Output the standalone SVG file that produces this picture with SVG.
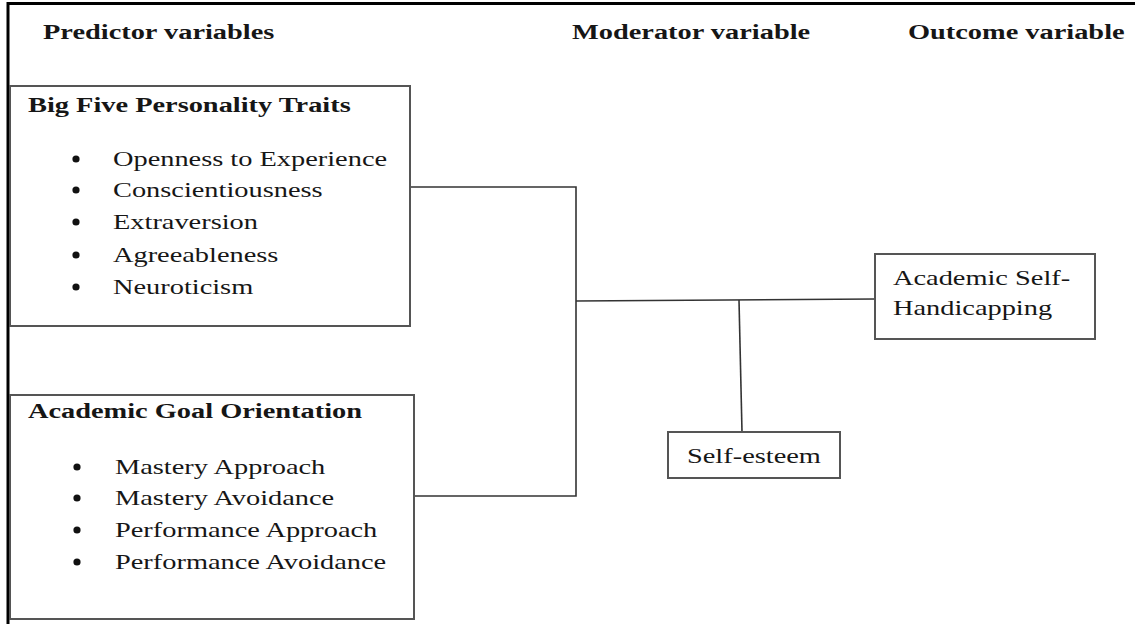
<svg xmlns="http://www.w3.org/2000/svg" width="1135" height="624" viewBox="0 0 1135 624">
<style>
  text { font-family: "Liberation Serif", "Times New Roman", serif; font-size: 22px; fill: #161616; }
  .b { font-weight: bold; }
  .box { fill: #fff; stroke: #555; stroke-width: 2; }
  .conn { fill: none; stroke: #333; stroke-width: 1.6; }
  .frame { fill: none; stroke: #000; stroke-width: 3; }
</style>
<defs>
  <circle id="dot" r="3.6" fill="#111"/>
</defs>
<rect width="1135" height="624" fill="#fff"/>
<path class="frame" d="M8 624 V3.5 H1135"/>

<g id="headers">
  <text class="b" transform="translate(43 39) scale(1.29 1)">Predictor variables</text>
  <text class="b" transform="translate(572 39) scale(1.29 1)">Moderator variable</text>
  <text class="b" transform="translate(908 39) scale(1.29 1)">Outcome variable</text>
</g>

<g id="connectors">
  <path class="conn" d="M411 187 H576 V496 H414"/>
  <path class="conn" d="M576 301 L875 299"/>
  <path class="conn" d="M739 300 L742 432"/>
</g>

<g id="big-five">
  <rect class="box" x="10" y="86" width="400" height="240"/>
  <text class="b" transform="translate(28 112) scale(1.29 1)">Big Five Personality Traits</text>
  <use href="#dot" x="76" y="159"/>
  <text transform="translate(113 166) scale(1.29 1)">Openness to Experience</text>
  <use href="#dot" x="76" y="190"/>
  <text transform="translate(113 197) scale(1.29 1)">Conscientiousness</text>
  <use href="#dot" x="76" y="222"/>
  <text transform="translate(113 229) scale(1.29 1)">Extraversion</text>
  <use href="#dot" x="76" y="255"/>
  <text transform="translate(113 262) scale(1.29 1)">Agreeableness</text>
  <use href="#dot" x="76" y="287"/>
  <text transform="translate(113 294) scale(1.29 1)">Neuroticism</text>
</g>

<g id="goal-orientation">
  <rect class="box" x="10" y="395" width="404" height="224"/>
  <text class="b" transform="translate(28 418) scale(1.29 1)">Academic Goal Orientation</text>
  <use href="#dot" x="77" y="467"/>
  <text transform="translate(115 474) scale(1.29 1)">Mastery Approach</text>
  <use href="#dot" x="77" y="498"/>
  <text transform="translate(115 505) scale(1.29 1)">Mastery Avoidance</text>
  <use href="#dot" x="77" y="530"/>
  <text transform="translate(115 537) scale(1.29 1)">Performance Approach</text>
  <use href="#dot" x="77" y="562"/>
  <text transform="translate(115 569) scale(1.29 1)">Performance Avoidance</text>
</g>

<g id="self-handicapping">
  <rect class="box" x="875" y="254" width="220" height="85"/>
  <text transform="translate(893 285) scale(1.29 1)">Academic Self-</text>
  <text transform="translate(893 315) scale(1.29 1)">Handicapping</text>
</g>

<g id="self-esteem">
  <rect class="box" x="668" y="432" width="172" height="46"/>
  <text transform="translate(687 463) scale(1.29 1)">Self-esteem</text>
</g>
</svg>
